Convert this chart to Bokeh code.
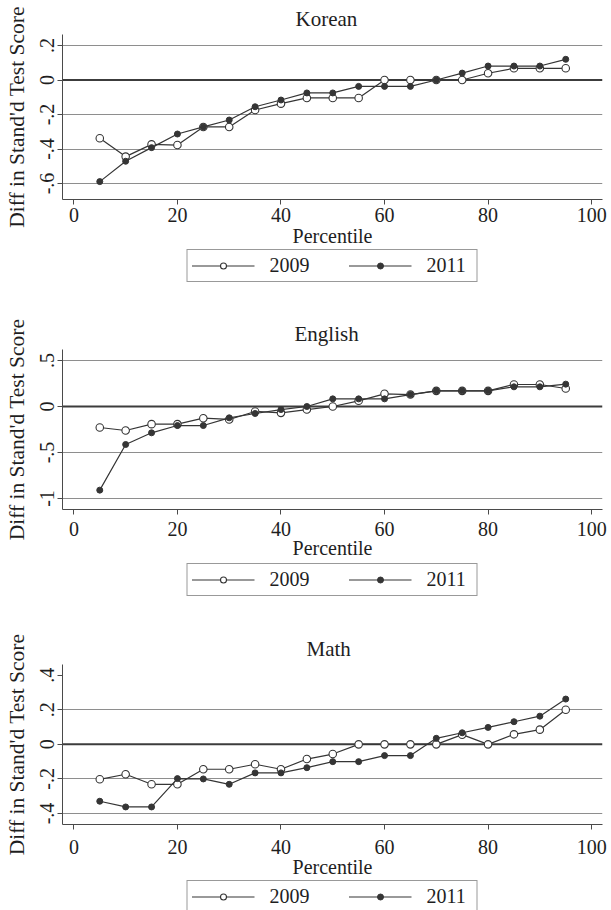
from bokeh.plotting import figure
from bokeh.models import Range1d, FixedTicker, Span, Legend, LegendItem, Title
from bokeh.layouts import column
from bokeh.embed import file_html
from bokeh.resources import INLINE

# ---------------- data ----------------
percentile = [5, 10, 15, 20, 25, 30, 35, 40, 45, 50, 55, 60, 65, 70, 75, 80, 85, 90, 95]

korean_2009 = [-0.338, -0.444, -0.373, -0.377, -0.272, -0.272, -0.174, -0.137, -0.104, -0.104,
               -0.104, 0.0, 0.0, 0.0, 0.0, 0.039, 0.068, 0.068, 0.068]
korean_2011 = [-0.589, -0.471, -0.392, -0.313, -0.272, -0.232, -0.155, -0.116, -0.075, -0.075,
               -0.037, -0.037, -0.037, 0.0, 0.040, 0.081, 0.081, 0.081, 0.120]

english_2009 = [-0.228, -0.261, -0.192, -0.192, -0.127, -0.141, -0.054, -0.069, -0.033, 0.0,
                0.062, 0.138, 0.130, 0.170, 0.170, 0.170, 0.239, 0.239, 0.196]
english_2011 = [-0.909, -0.413, -0.286, -0.207, -0.207, -0.123, -0.076, -0.033, 0.0, 0.083,
                0.083, 0.083, 0.130, 0.170, 0.170, 0.170, 0.214, 0.214, 0.243]

math_2009 = [-0.202, -0.173, -0.231, -0.231, -0.144, -0.144, -0.115, -0.144, -0.085, -0.056,
             0.0, 0.0, 0.0, 0.0, 0.056, 0.0, 0.058, 0.085, 0.200]
math_2011 = [-0.329, -0.362, -0.362, -0.198, -0.200, -0.231, -0.165, -0.165, -0.135, -0.100,
             -0.100, -0.065, -0.065, 0.035, 0.067, 0.098, 0.131, 0.163, 0.262]

series_names = ["2009", "2011"]
x_ticks = [0, 20, 40, 60, 80, 100]
x_tick_labels = ["0", "20", "40", "60", "80", "100"]

korean_yticks = [-0.6, -0.4, -0.2, 0.0, 0.2]
korean_ylabels = ["-.6", "-.4", "-.2", "0", ".2"]
english_yticks = [-1.0, -0.5, 0.0, 0.5]
english_ylabels = ["-1", "-.5", "0", ".5"]
math_yticks = [-0.4, -0.2, 0.0, 0.2, 0.4]
math_ylabels = ["-.4", "-.2", "0", ".2", ".4"]

korean_grid = [-0.6, -0.4, -0.2, 0.2]
english_grid = [-1.0, -0.5, 0.5]
math_grid = [-0.4, -0.2, 0.2]

y_title = "Diff in Stand'd Test Score"
x_title = "Percentile"

# ---------------- style ----------------
FONT = "Liberation Serif"
FS = "20px"
TXT = "#1e1e1e"
LINE = "#353535"
AXIS = "#4a4a4a"
GRID = "#8e8e8e"
W = 610


def add_series(p, y09, y11):
    l09 = p.line(percentile, y09, line_color=LINE, line_width=1.2)
    s09 = p.scatter(percentile, y09, marker="circle", size=7.5, fill_color="white",
                    line_color=LINE, line_width=1.1)
    l11 = p.line(percentile, y11, line_color=LINE, line_width=1.2)
    s11 = p.scatter(percentile, y11, marker="circle", size=6, fill_color=LINE,
                    line_color=LINE, line_width=1)
    return l09, s09, l11, s11


def panel(title, y09, y11, yrange, yticks, ylabels, grid, border_bottom,
          frame_h, tick_standoff, axis_label_standoff, title_offset):
    p = figure(width=W, height=34 + frame_h + border_bottom,
               x_range=Range1d(-2.2, 102.1), y_range=Range1d(*yrange),
               output_backend="svg", toolbar_location=None,
               min_border_left=62, min_border_right=W - 602, min_border_top=34,
               min_border_bottom=border_bottom)
    p.outline_line_color = None
    p.background_fill_color = "white"
    p.border_fill_color = "white"

    p.xgrid.visible = False
    p.ygrid.ticker = FixedTicker(ticks=grid)
    p.ygrid.grid_line_color = GRID
    p.ygrid.grid_line_width = 1
    p.add_layout(Span(location=0, dimension="width", line_color="#3c3c3c",
                      line_width=2, level="underlay"))

    for ax in (p.xaxis[0], p.yaxis[0]):
        ax.axis_line_color = AXIS
        ax.axis_line_width = 1
        ax.major_tick_line_color = AXIS
        ax.major_tick_in = 0
        ax.major_tick_out = 5
        ax.minor_tick_line_color = None
        ax.major_label_text_font = FONT
        ax.major_label_text_font_size = FS
        ax.major_label_text_color = TXT
        ax.axis_label_text_font = FONT
        ax.axis_label_text_font_size = FS
        ax.axis_label_text_font_style = "normal"
        ax.axis_label_text_color = TXT

    xa = p.xaxis[0]
    xa.ticker = FixedTicker(ticks=x_ticks)
    xa.major_label_overrides = {t: l for t, l in zip(x_ticks, x_tick_labels)}
    xa.axis_label = x_title
    xa.major_label_standoff = tick_standoff
    xa.axis_label_standoff = axis_label_standoff

    ya = p.yaxis[0]
    ya.ticker = FixedTicker(ticks=yticks)
    ya.major_label_overrides = {t: l for t, l in zip(yticks, ylabels)}
    ya.major_label_orientation = "vertical"
    ya.axis_label = y_title
    ya.axis_label_text_font_size = "21.5px"
    ya.major_label_standoff = 3
    ya.axis_label_standoff = 9

    add_series(p, y09, y11)

    p.add_layout(Title(text=title, align="left", offset=title_offset, standoff=7,
                       text_font=FONT, text_font_size="21px", text_font_style="normal",
                       text_color=TXT), "above")
    return p


def legend_fig(y09, y11, height):
    # series drawn outside the visible range; only the legend samples show
    f = figure(width=W, height=height, x_range=Range1d(-2.0, -1.0), y_range=Range1d(0, 1),
               x_axis_location=None, y_axis_location=None,
               output_backend="svg", toolbar_location=None,
               min_border_left=62, min_border_right=W - 602, min_border_top=0,
               min_border_bottom=0)
    f.outline_line_color = None
    f.grid.visible = False
    f.background_fill_color = "white"
    f.border_fill_color = "white"
    l09, s09, l11, s11 = add_series(f, y09, y11)
    legend = Legend(items=[LegendItem(label=series_names[0], renderers=[l09, s09]),
                           LegendItem(label=series_names[1], renderers=[l11, s11])],
                    location="top_center", orientation="horizontal",
                    label_text_font=FONT, label_text_font_size=FS, label_text_color=TXT,
                    glyph_width=63, glyph_height=15, label_height=20, label_width=46,
                    label_standoff=15, spacing=33, padding=4, margin=0,
                    border_line_color="#333333", border_line_width=1,
                    background_fill_color="white", background_fill_alpha=1.0)
    f.add_layout(legend)
    return f


p1 = panel("Korean", korean_2009, korean_2011, (-0.6927, 0.2638), korean_yticks,
           korean_ylabels, korean_grid, 50, 165, 3, 0, 233)
g1 = legend_fig(korean_2009, korean_2011, 66)
p2 = panel("English", english_2009, english_2011, (-1.1196, 0.6196), english_yticks,
           english_ylabels, english_grid, 54, 160, 7, -2, 232)
g2 = legend_fig(english_2009, english_2011, 67)
p3 = panel("Math", math_2009, math_2011, (-0.4635, 0.4619), math_yticks,
           math_ylabels, math_grid, 56, 160, 10, -1, 244)
g3 = legend_fig(math_2009, math_2011, 30)

layout = column(p1, g1, p2, g2, p3, g3, spacing=0)
open("out.html", "w").write(file_html(layout, INLINE))
